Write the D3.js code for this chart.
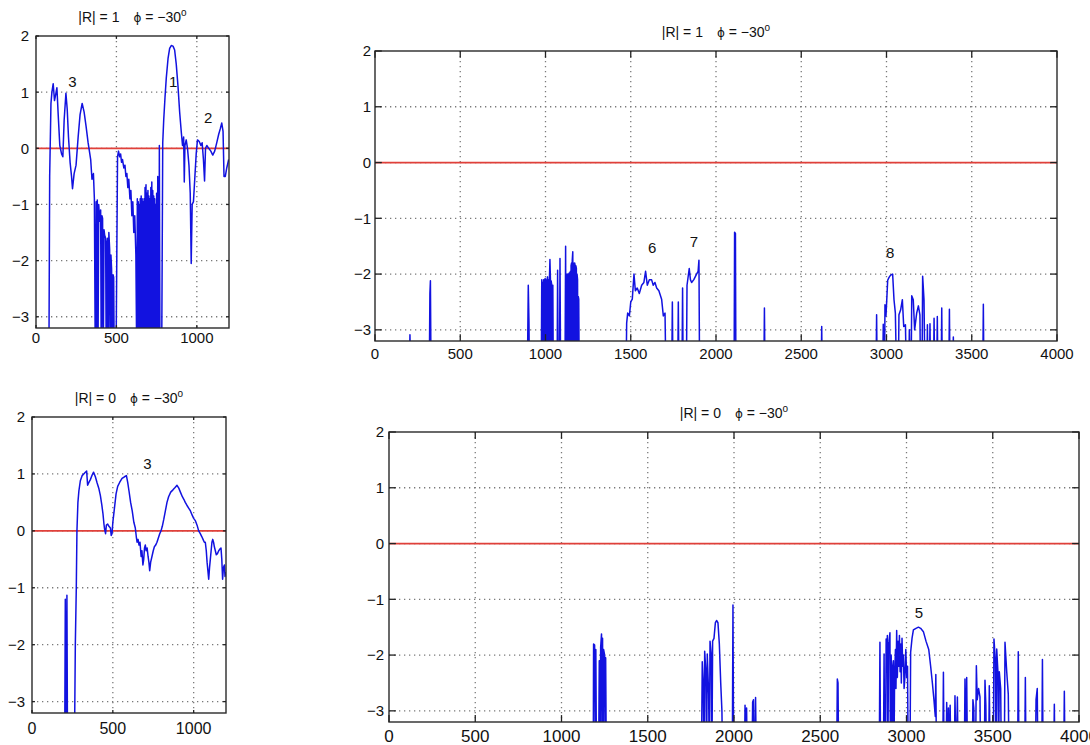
<!DOCTYPE html>
<html>
<head>
<meta charset="utf-8">
<script src="https://cdn.jsdelivr.net/npm/d3@7"></script>
<style>
  body { margin: 0; background: #fff; }
  text, tspan { font-family: "Liberation Sans", Arial, Helvetica, sans-serif; fill: #111; }
</style>
</head>
<body>
<svg id="chart" width="1090" height="745"></svg>
<script>
/**
 * Data (x = sample index, y = value; -4 means "below the plotted range")
 */
var yTicks = [-3, -2, -1, 0, 1, 2];
var xTicksShort = [0, 500, 1000];
var xTicksLong = [0, 500, 1000, 1500, 2000, 2500, 3000, 3500, 4000];

// |R| = 1, short window
var traceR1Short = [
  [0,-4],[80,-4],[85,-0.5],[93,0.8],[99,1.0],[107,1.15],[115,0.85],[122,0.95],[130,1.08],[138,0.6],
  [148,0.05],[159,-0.1],[167,-0.15],[175,0.5],[186,0.98],[194,0.7],[202,0.2],[212,-0.25],[221,-0.5],
  [227,-0.72],[237,-0.45],[249,-0.3],[262,0.2],[274,0.6],[287,0.8],[299,0.65],[311,0.4],[324,0.1],
  [332,-0.05],[340,-0.2],[348,-0.55],[357,-0.45],[363,-0.9],[369,-4],
  [374,-0.95],[378,-4],[381,-0.92],[385,-4],[390,-1.0],[396,-1.3],[402,-1.1],[406,-4],[410,-1.2],
  [414,-1.25],[418,-4],[423,-1.45],[427,-1.55],[433,-1.6],[437,-4],[441,-1.7],[445,-1.6],[449,-4],
  [453,-1.5],[458,-1.8],[462,-4],[466,-1.9],[470,-2.15],[474,-4],[479,-2.25],[483,-2.3],[487,-4],[497,-4],
  [507,-0.15],[513,-0.05],[520,-0.15],[526,-0.1],[532,-0.25],[538,-0.2],[546,-0.35],[553,-0.3],[559,-0.5],
  [565,-0.45],[571,-0.7],[577,-0.55],[584,-0.9],[590,-0.75],[596,-1.2],[602,-0.95],[608,-1.5],[614,-1.2],
  [621,-1.9],[627,-4],
  [630,-0.9],[633,-4],[636,-0.95],[639,-4],[642,-1.0],[645,-4],[648,-0.9],[651,-4],[654,-0.85],[657,-4],
  [660,-0.9],[663,-4],[666,-0.95],[669,-4],[672,-0.9],[675,-4],[678,-0.7],[681,-4],[684,-0.65],[687,-4],
  [690,-0.8],[693,-4],[696,-0.75],[699,-4],[702,-0.85],[705,-4],[708,-0.9],[711,-4],[714,-0.7],[717,-4],
  [720,-0.6],[723,-4],[726,-0.75],[729,-4],[732,-0.85],[735,-4],[738,-0.9],[741,-4],[744,-1.0],[747,-4],
  [750,-0.8],[753,-4],[757,-0.5],[760,-4],[764,-4],[767,0.05],[771,-4],[781,-4],
  [788,0.1],[794,0.5],[802,0.9],[810,1.25],[821,1.6],[831,1.78],[841,1.83],[852,1.82],[862,1.75],[872,1.5],
  [883,1.1],[893,0.65],[903,0.3],[911,0.05],[918,0.2],[922,-0.6],[926,0.05],[934,0.15],[942,0.0],[951,-0.3],
  [959,-0.8],[965,-2.05],[971,-1.0],[979,-0.95],[988,-0.5],[996,-0.1],[1004,0.15],[1015,0.12],[1025,0.05],
  [1033,0.1],[1041,-0.2],[1048,-0.58],[1054,0.0],[1062,0.05],[1074,0.0],[1087,-0.05],[1099,-0.12],
  [1111,-0.05],[1124,0.1],[1136,0.25],[1146,0.35],[1155,0.45],[1163,0.3],[1169,-0.5],[1177,-0.5],
  [1186,-0.35],[1198,-0.2]
];

// |R| = 1, long window
var traceR1Long = [
  [0,-4],[200,-4],[205,-3.09],[210,-4],
  [318,-4],[322,-2.35],[325,-2.12],[329,-4],
  [893,-4],[899,-2.2],[903,-2.85],[906,-4],
  [975,-4],[978,-2.1],[980,-4],[983,-2.15],[985,-2.2],[987,-4],[989,-2.1],[991,-2.12],[993,-4],
  [995,-2.12],[998,-2.08],[1000,-4],[1002,-2.1],[1005,-2.12],[1007,-4],[1009,-2.1],[1012,-2.05],[1014,-4],
  [1016,-2.15],[1019,-2.1],[1021,-4],[1023,-2.1],[1026,-1.74],[1029,-2.1],[1031,-4],[1033,-2.12],
  [1036,-2.18],[1038,-4],[1040,-2.25],[1043,-2.2],[1046,-4],
  [1068,-4],[1071,-1.93],[1075,-4],[1082,-4],[1085,-1.72],[1089,-4],
  [1114,-4],[1118,-1.5],[1120,-4],[1122,-2.0],[1125,-2.05],[1127,-4],[1129,-2.0],[1132,-2.02],[1134,-4],
  [1136,-2.0],[1139,-1.98],[1141,-4],[1143,-2.0],[1146,-1.95],[1148,-4],[1150,-1.85],[1153,-1.8],[1155,-4],
  [1157,-1.75],[1160,-1.6],[1162,-4],[1164,-1.8],[1167,-1.85],[1169,-4],[1171,-1.8],[1174,-1.85],[1176,-4],
  [1178,-1.85],[1181,-1.9],[1183,-4],[1185,-2.0],[1188,-2.1],[1190,-4],[1192,-2.4],[1195,-2.45],[1198,-4],
  [1472,-4],[1476,-2.88],[1482,-2.7],[1492,-2.75],[1500,-2.5],[1509,-2.45],[1519,-2.0],[1527,-2.3],
  [1538,-2.25],[1550,-2.35],[1564,-2.2],[1577,-2.15],[1587,-1.95],[1597,-2.2],[1609,-2.1],[1622,-2.1],
  [1632,-2.2],[1642,-2.15],[1652,-2.25],[1665,-2.3],[1681,-2.45],[1691,-2.75],[1701,-2.7],[1707,-4],
  [1740,-4],[1744,-2.5],[1748,-4],[1775,-4],[1779,-2.5],[1783,-4],[1800,-4],[1804,-2.25],[1808,-4],
  [1826,-4],[1830,-2.2],[1843,-1.9],[1850,-2.1],[1857,-2.15],[1870,-2.1],[1886,-2.0],[1895,-1.95],
  [1900,-1.75],[1904,-4],
  [2106,-4],[2109,-1.25],[2114,-1.27],[2117,-4],
  [2280,-4],[2284,-2.61],[2288,-4],
  [2616,-4],[2620,-2.94],[2624,-4],
  [2938,-4],[2942,-2.73],[2946,-4],[2977,-4],[2981,-2.9],[2985,-4],[2988,-4],[2991,-2.55],[2997,-2.75],
  [3007,-2.11],[3015,-2.06],[3024,-2.02],[3036,-2.0],[3044,-2.46],[3052,-2.7],[3060,-4],
  [3069,-4],[3073,-2.73],[3083,-2.64],[3093,-2.46],[3101,-2.94],[3111,-2.91],[3118,-4],[3130,-4],
  [3134,-3.0],[3140,-4],[3144,-4],[3148,-2.39],[3157,-2.46],[3165,-3.0],[3177,-2.7],[3187,-2.57],
  [3196,-2.73],[3200,-4],[3208,-4],[3212,-2.04],[3220,-2.46],[3226,-4],[3236,-4],[3240,-2.91],[3244,-4],
  [3251,-4],[3255,-2.89],[3259,-4],[3275,-4],[3279,-2.79],[3283,-4],[3294,-4],[3298,-2.76],[3302,-4],
  [3320,-4],[3324,-2.61],[3328,-4],[3365,-4],[3369,-2.63],[3373,-4],[3388,-4],[3392,-3.13],[3396,-4],
  [3564,-4],[3568,-2.54],[3572,-4],[4000,-4]
];

// |R| = 0, short window
var traceR0Short = [
  [0,-4],[202,-4],[206,-1.2],[210,-4],[213,-4],[216,-1.13],[220,-4],
  [262,-4],[268,-2],[274,-1],[278,0],[284,0.5],[290,0.7],[299,0.88],[310,0.97],[320,1.0],[330,1.03],
  [338,1.05],[344,0.8],[352,0.85],[361,0.9],[372,0.98],[381,1.03],[392,0.95],[402,0.85],[413,0.75],
  [423,0.62],[432,0.45],[439,0.3],[445,0.12],[449,0.03],[455,-0.05],[460,0.1],[468,0.12],[476,0.08],
  [485,0.05],[490,-0.08],[495,-0.05],[500,0.15],[510,0.4],[520,0.65],[530,0.78],[542,0.85],[557,0.92],
  [572,0.95],[584,0.97],[592,0.85],[600,0.7],[610,0.5],[620,0.35],[630,0.15],[639,0.05],[645,-0.1],
  [650,-0.2],[656,-0.15],[662,-0.25],[668,-0.2],[675,-0.45],[680,-0.35],[686,-0.6],[691,-0.5],[696,-0.3],
  [701,-0.25],[706,-0.35],[712,-0.3],[718,-0.45],[723,-0.55],[728,-0.7],[734,-0.55],[742,-0.45],
  [750,-0.35],[757,-0.28],[765,-0.25],[773,-0.2],[782,-0.12],[790,-0.05],[798,0.0],[806,0.08],[815,0.2],
  [825,0.35],[835,0.5],[845,0.6],[858,0.68],[872,0.72],[885,0.76],[897,0.8],[908,0.75],[918,0.68],
  [930,0.6],[940,0.55],[948,0.5],[958,0.45],[969,0.4],[980,0.35],[990,0.28],[1000,0.22],[1010,0.18],
  [1021,0.1],[1031,0.0],[1041,-0.05],[1050,-0.1],[1058,-0.15],[1066,-0.2],[1072,-0.2],[1078,-0.35],
  [1083,-0.55],[1088,-0.7],[1093,-0.85],[1098,-0.65],[1103,-0.5],[1108,-0.35],[1113,-0.2],[1118,-0.15],
  [1123,-0.2],[1128,-0.28],[1134,-0.35],[1140,-0.42],[1147,-0.4],[1155,-0.35],[1162,-0.32],[1169,-0.3],
  [1174,-0.5],[1179,-0.85],[1184,-0.65],[1190,-0.6],[1194,-0.8],[1198,-0.72]
];

// |R| = 0, long window
var traceR0Long = [
  [0,-4],[1184,-4],[1186,-1.8],[1192,-1.82],[1196,-4],[1199,-1.9],[1203,-4],[1215,-4],[1219,-2.1],
  [1223,-4],[1227,-1.86],[1232,-1.62],[1235,-4],[1238,-1.7],[1241,-4],[1244,-1.9],[1250,-2.0],[1253,-4],
  [1256,-2.05],[1260,-4],
  [1811,-4],[1816,-2.12],[1822,-2.55],[1826,-4],[1830,-1.93],[1837,-2.3],[1841,-4],[1845,-1.98],
  [1853,-2.7],[1857,-4],[1861,-1.75],[1868,-2.0],[1872,-4],[1876,-1.75],[1884,-1.7],[1892,-1.42],
  [1899,-1.38],[1907,-1.42],[1915,-1.8],[1923,-2.5],[1930,-3.0],[1934,-4],
  [1990,-4],[1994,-1.1],[1998,-4],
  [2060,-4],[2064,-2.9],[2068,-4],[2070,-4],[2073,-2.95],[2077,-4],[2104,-4],[2108,-2.84],[2113,-2.8],
  [2118,-4],[2121,-4],[2125,-2.76],[2130,-4],
  [2595,-4],[2599,-2.43],[2603,-2.5],[2607,-4],
  [2842,-4],[2846,-1.77],[2850,-4],[2866,-4],[2870,-1.98],[2874,-4],[2878,-4],[2882,-1.71],[2886,-2.3],
  [2889,-1.65],[2892,-4],[2896,-1.8],[2899,-1.75],[2904,-1.6],[2907,-4],[2911,-2.0],[2914,-2.3],[2917,-4],
  [2921,-2.2],[2924,-2.1],[2927,-4],[2931,-2.4],[2936,-1.9],[2939,-2.6],
  [2943,-1.56],[2947,-2.4],[2951,-1.75],[2955,-2.2],[2959,-1.65],[2963,-2.3],[2967,-1.8],[2970,-2.5],
  [2974,-1.7],[2978,-2.2],[2982,-2.0],[2986,-2.6],[2990,-2.43],[2996,-1.9],[3001,-2.4],[3006,-2.2],[3010,-4],
  [3020,-4],[3024,-1.95],[3032,-1.7],
  [3040,-1.55],[3055,-1.52],[3069,-1.5],[3082,-1.52],[3098,-1.58],[3113,-1.75],[3129,-1.9],[3140,-2.2],
  [3150,-2.5],[3159,-2.8],[3167,-3.1],[3170,-2.35],[3174,-4],
  [3210,-4],[3214,-2.31],[3218,-4],[3229,-4],[3233,-2.85],[3238,-4],[3243,-2.95],[3248,-4],[3253,-2.9],
  [3258,-4],[3277,-4],[3281,-2.73],[3288,-4],[3295,-2.75],[3300,-4],[3335,-4],[3339,-2.43],[3344,-4],
  [3349,-2.4],[3354,-4],[3381,-4],[3385,-2.8],[3390,-2.95],[3395,-4],[3400,-4],[3405,-2.19],[3410,-2.8],
  [3418,-2.6],[3426,-2.75],[3430,-4],[3451,-4],[3455,-2.45],[3460,-2.9],[3464,-4],[3476,-4],[3480,-2.55],
  [3485,-4],[3503,-4],[3507,-1.71],[3515,-2.1],[3519,-4],[3523,-1.89],[3530,-2.3],[3534,-4],[3538,-2.3],
  [3546,-2.6],[3550,-4],[3567,-4],[3571,-1.77],[3581,-2.3],[3590,-2.7],[3595,-4],[3644,-4],[3648,-1.94],
  [3652,-4],[3685,-4],[3689,-2.4],[3693,-4],[3747,-4],[3751,-2.8],[3758,-2.6],[3762,-4],[3784,-4],
  [3788,-2.08],[3792,-4],[3853,-4],[3857,-2.88],[3861,-4],[3911,-4],[3915,-2.65],[3919,-4],[4000,-4]
];

// numbered annotations (data coordinates)
var notesR1Short = [ { t:'3', x:227, y:1.18 }, { t:'1', x:853, y:1.18 }, { t:'2', x:1070, y:0.55 } ];
var notesR1Long  = [ { t:'6', x:1625, y:-1.52 }, { t:'7', x:1871, y:-1.41 }, { t:'8', x:3021, y:-1.61 } ];
var notesR0Short = [ { t:'3', x:714, y:1.19 } ];
var notesR0Long  = [ { t:'5', x:3072, y:-1.23 } ];

/**
 * Layout
 */
var panels = [
  { l:36,  t:36,  r:229,  b:328, xMax:1200, xt:xTicksShort, R:'1', trace:traceR1Short, notes:notesR1Short, xfs:15, xdy:15, ygap:7 },
  { l:375, t:51,  r:1057, b:341, xMax:4000, xt:xTicksLong,  R:'1', trace:traceR1Long,  notes:notesR1Long,  xfs:15, xdy:18, ygap:4 },
  { l:32,  t:417, r:226,  b:713, xMax:1200, xt:xTicksShort, R:'0', trace:traceR0Short, notes:notesR0Short, xfs:16, xdy:21, ygap:7 },
  { l:389, t:432, r:1079, b:722, xMax:4000, xt:xTicksLong,  R:'0', trace:traceR0Long,  notes:notesR0Long,  xfs:17, xdy:20, ygap:5 }
];

var svg = d3.select('#chart');

panels.forEach(function(p, k) {
  var x = d3.scaleLinear().domain([0, p.xMax]).range([p.l, p.r]),
      y = d3.scaleLinear().domain([-3.2, 2]).range([p.b, p.t]),
      g = svg.append('g').attr('class', 'panel'),
      tickLen = 0.01 * Math.max(p.r - p.l, p.b - p.t);

  // clip
  svg.append('clipPath').attr('id', 'clip' + k)
    .append('rect')
      .attr('x', p.l).attr('y', p.t)
      .attr('width', p.r - p.l).attr('height', p.b - p.t);

  // dotted grid
  g.selectAll('.vgrid').data(p.xt.filter(function(d) { return d > 0 && d < p.xMax; }))
    .enter().append('line')
      .attr('x1', function(d) { return x(d); }).attr('x2', function(d) { return x(d); })
      .attr('y1', p.t).attr('y2', p.b)
      .style('stroke', '#7a7a7a').style('stroke-width', 1.3).style('stroke-dasharray', '1.3,3.7');
  g.selectAll('.hgrid').data(yTicks.filter(function(d) { return d < 2; }))
    .enter().append('line')
      .attr('x1', p.l).attr('x2', p.r)
      .attr('y1', function(d) { return y(d); }).attr('y2', function(d) { return y(d); })
      .style('stroke', '#7a7a7a').style('stroke-width', 1.3).style('stroke-dasharray', '1.3,3.7');

  // zero reference line
  g.append('line')
    .attr('x1', p.l).attr('x2', p.r)
    .attr('y1', y(0)).attr('y2', y(0))
    .style('stroke', '#e0403a').style('stroke-width', 1.8);

  // data trace
  g.append('path')
    .datum(p.trace)
    .attr('clip-path', 'url(#clip' + k + ')')
    .attr('d', d3.line().x(function(d) { return x(d[0]); }).y(function(d) { return y(d[1]); }))
    .style('fill', 'none')
    .style('stroke', '#1212e0')
    .style('stroke-width', 1.5)
    .style('stroke-linejoin', 'round');

  // box
  g.append('rect')
    .attr('x', p.l).attr('y', p.t)
    .attr('width', p.r - p.l).attr('height', p.b - p.t)
    .style('fill', 'none').style('stroke', '#2a2a2a').style('stroke-width', 1.4);

  // inward ticks on all four sides
  p.xt.forEach(function(d) {
    g.append('line').attr('x1', x(d)).attr('x2', x(d)).attr('y1', p.b).attr('y2', p.b - tickLen)
      .style('stroke', '#222').style('stroke-width', 1.3);
    g.append('line').attr('x1', x(d)).attr('x2', x(d)).attr('y1', p.t).attr('y2', p.t + tickLen)
      .style('stroke', '#222').style('stroke-width', 1.3);
  });
  yTicks.forEach(function(d) {
    g.append('line').attr('x1', p.l).attr('x2', p.l + tickLen).attr('y1', y(d)).attr('y2', y(d))
      .style('stroke', '#222').style('stroke-width', 1.3);
    g.append('line').attr('x1', p.r).attr('x2', p.r - tickLen).attr('y1', y(d)).attr('y2', y(d))
      .style('stroke', '#222').style('stroke-width', 1.3);
  });

  // tick labels
  g.selectAll('.xlab').data(p.xt)
    .enter().append('text')
      .attr('x', function(d) { return x(d); })
      .attr('y', p.b + p.xdy)
      .attr('text-anchor', 'middle')
      .style('font-size', p.xfs + 'px')
      .text(function(d) { return d; });
  g.selectAll('.ylab').data(yTicks)
    .enter().append('text')
      .attr('x', p.l - p.ygap)
      .attr('y', function(d) { return y(d); })
      .attr('dy', '0.36em')
      .attr('text-anchor', 'end')
      .style('font-size', '15px')
      .text(function(d) { return d < 0 ? '\u2212' + Math.abs(d) : d; });

  // title
  var title = g.append('text')
        .attr('x', (p.l + p.r) / 2)
        .attr('y', p.t - 14)
        .attr('text-anchor', 'middle')
        .style('font-size', '14px');
  title.append('tspan').text('|R| = ' + p.R);
  title.append('tspan').attr('dx', 14)
    .style('font-family', 'DejaVu Sans').style('fill', '#111').style('font-size', '12px').text('\u03d5');
  title.append('tspan').style('fill', '#111').text(' = \u221230');
  title.append('tspan').attr('dy', -6).style('font-size', '10px').text('o');

  // numbered annotations
  g.selectAll('.note').data(p.notes)
    .enter().append('text')
      .attr('x', function(d) { return x(d.x); })
      .attr('y', function(d) { return y(d.y); })
      .attr('dy', '0.36em')
      .attr('text-anchor', 'middle')
      .style('font-size', '15px')
      .text(function(d) { return d.t; });
});
</script>
</body>
</html>
